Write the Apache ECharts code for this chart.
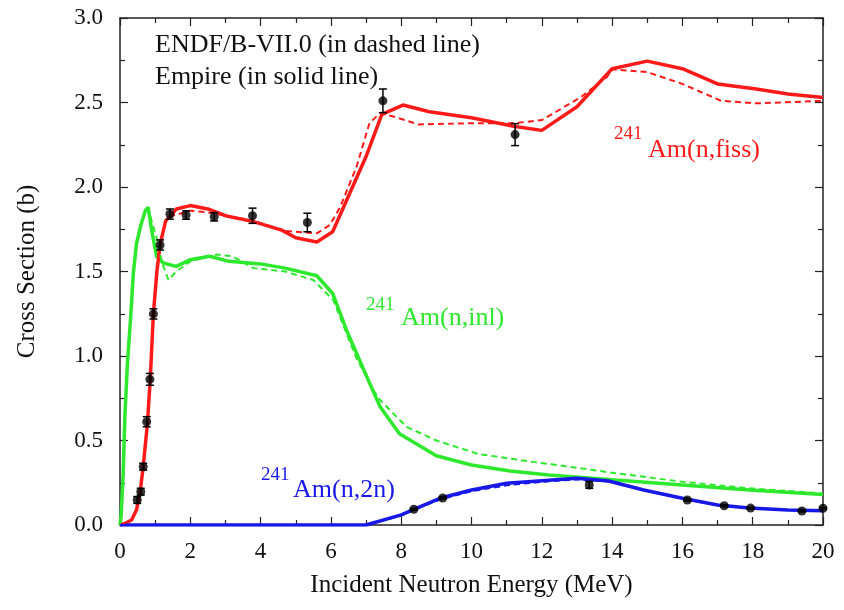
<!DOCTYPE html>
<html>
<head>
<meta charset="utf-8">
<script src="https://cdn.jsdelivr.net/npm/echarts@6/dist/echarts.min.js"></script>
<style>html,body{margin:0;padding:0;background:#fff}#chart{width:844px;height:610px}</style>
</head>
<body>
<div id="chart"></div>
<script>
// energies in MeV, cross sections in barn
const fissSolidE = [0, 0.15, 0.33, 0.47, 0.57, 0.66, 0.78, 0.86, 0.95, 1.05, 1.14, 1.3, 1.45, 1.6, 2.0, 2.5, 3.0, 3.8, 4.6, 5.0, 5.6, 6.05, 6.7, 7.0, 7.45, 8.05, 8.8, 10.0, 11.2, 12.0, 13.0, 14.0, 15.0, 16.0, 17.0, 18.1, 19.0, 20.0]
const fissSolid = [0, 0.01, 0.03, 0.09, 0.19, 0.345, 0.6, 0.86, 1.25, 1.5, 1.66, 1.8, 1.83, 1.87, 1.89, 1.87, 1.83, 1.795, 1.745, 1.70, 1.675, 1.735, 2.04, 2.18, 2.43, 2.485, 2.445, 2.41, 2.36, 2.335, 2.475, 2.70, 2.745, 2.70, 2.61, 2.58, 2.55, 2.53]
const fissDashE = [0, 0.15, 0.33, 0.47, 0.57, 0.66, 0.78, 0.86, 0.95, 1.05, 1.14, 1.3, 1.5, 2.0, 2.5, 3.0, 3.8, 4.7, 5.6, 5.97, 6.26, 6.73, 7.1, 7.4, 7.8, 8.5, 9.9, 11.2, 12.0, 13.1, 13.85, 14.0, 15.0, 16.0, 17.1, 18.1, 20.0]
const fissDash = [0, 0.01, 0.03, 0.09, 0.19, 0.345, 0.6, 0.86, 1.25, 1.5, 1.66, 1.8, 1.83, 1.86, 1.85, 1.83, 1.80, 1.74, 1.726, 1.775, 1.88, 2.12, 2.38, 2.436, 2.416, 2.37, 2.377, 2.377, 2.396, 2.53, 2.65, 2.696, 2.68, 2.61, 2.51, 2.495, 2.51]

const inlSolidE = [0, 0.03, 0.09, 0.14, 0.21, 0.3, 0.38, 0.47, 0.6, 0.72, 0.8, 0.9, 1.04, 1.23, 1.6, 2.0, 2.55, 3.1, 4.0, 4.7, 5.6, 6.05, 6.45, 7.1, 7.4, 7.95, 9.0, 10.0, 11.1, 12.2, 14.1, 16.0, 17.9, 20.0]
const inlSolid = [0, 0.05, 0.3, 0.65, 0.95, 1.22, 1.49, 1.667, 1.78, 1.86, 1.88, 1.745, 1.59, 1.55, 1.53, 1.57, 1.59, 1.56, 1.545, 1.52, 1.475, 1.37, 1.15, 0.84, 0.70, 0.54, 0.41, 0.355, 0.32, 0.296, 0.266, 0.237, 0.207, 0.18]
const inlDashE = [0, 0.03, 0.09, 0.14, 0.21, 0.3, 0.38, 0.47, 0.6, 0.72, 0.8, 0.9, 1.04, 1.2, 1.38, 1.6, 2.0, 2.75, 3.2, 3.8, 4.7, 5.5, 6.07, 6.26, 6.7, 7.2, 7.4, 7.87, 8.16, 9.0, 10.2, 11.7, 13.3, 14.1, 16.0, 17.9, 20.0]
const inlDash = [0, 0.05, 0.3, 0.65, 0.95, 1.22, 1.49, 1.667, 1.78, 1.86, 1.88, 1.80, 1.70, 1.55, 1.45, 1.50, 1.56, 1.60, 1.59, 1.52, 1.50, 1.45, 1.33, 1.23, 1.0, 0.80, 0.74, 0.64, 0.58, 0.50, 0.42, 0.375, 0.33, 0.306, 0.256, 0.217, 0.187]

const n2nE = [0, 7.0, 8.0, 8.36, 9.1, 10.0, 11.0, 12.0, 13.0, 13.9, 14.9, 16.0, 17.0, 17.9, 19.0, 20.0]
const n2nSolid = [0, 0, 0.06, 0.093, 0.158, 0.207, 0.247, 0.262, 0.276, 0.26, 0.207, 0.158, 0.118, 0.10, 0.089, 0.085]
const n2nDash = [0, 0, 0.055, 0.09, 0.15, 0.2, 0.235, 0.255, 0.27, 0.258, 0.205, 0.155, 0.118, 0.10, 0.088, 0.085]

// measured points
const fissExpE = [0.49, 0.59, 0.66, 0.76, 0.85, 0.95, 1.14, 1.42, 1.88, 2.68, 3.77, 5.33, 7.48, 11.24]
const fissExp = [0.148, 0.197, 0.345, 0.611, 0.862, 1.249, 1.657, 1.84, 1.834, 1.824, 1.83, 1.79, 2.51, 2.31]
const fissErr = [0.02, 0.02, 0.02, 0.03, 0.035, 0.03, 0.03, 0.03, 0.025, 0.025, 0.045, 0.055, 0.07, 0.065]
const n2nExpE = [8.36, 9.18, 13.35, 16.14, 17.19, 17.94, 19.4, 20.0]
const n2nExp = [0.093, 0.16, 0.237, 0.148, 0.114, 0.10, 0.083, 0.099]
const n2nErr = [0.005, 0.006, 0.02, 0.006, 0.005, 0.005, 0.005, 0.005]

const RED = '#ff1a1a', GREEN = '#2ee82e', BLUE = '#1818e8'
const FONT = '"Liberation Serif", "Times New Roman", serif'

const zip = (a, b) => a.map((x, i) => [x, b[i]])

function curve(E, S, color, dashed) {
    return {
        type: 'line', data: zip(E, S), showSymbol: false, silent: true,
        lineStyle: dashed ? {color, width: 2, type: [6, 4]} : {color, width: 3.5},
        z: dashed ? 3 : 2
    }
}

function errorBars(E, S, err) {
    return {
        type: 'custom', z: 6, silent: true,
        data: E.map((x, i) => [x, S[i], err[i]]),
        renderItem: (params, api) => {
            let x = api.value(0), y = api.value(1), e = api.value(2)
            let top = api.coord([x, y + e]), bot = api.coord([x, y - e])
            let st = {stroke: '#000', lineWidth: 1.5}
            return {type: 'group', children: [
                {type: 'line', shape: {x1: top[0], y1: top[1], x2: bot[0], y2: bot[1]}, style: st},
                {type: 'line', shape: {x1: top[0] - 4, y1: top[1], x2: top[0] + 4, y2: top[1]}, style: st},
                {type: 'line', shape: {x1: bot[0] - 4, y1: bot[1], x2: bot[0] + 4, y2: bot[1]}, style: st}
            ]}
        }
    }
}

function dots(E, S) {
    return {type: 'scatter', data: zip(E, S), symbolSize: 9, itemStyle: {color: '#000'}, z: 7, silent: true}
}

const axisLine = {show: true, onZero: false, lineStyle: {color: '#222', width: 1.5}}
const tick = {show: true, inside: true, length: 8, lineStyle: {color: '#222', width: 1.2}}
const minor = {show: true, splitNumber: 2, length: 5, lineStyle: {color: '#222', width: 1.2}}

function label(text, x, y, size, color) {
    return {type: 'text', x, y, style: {text, fill: color, font: size + 'px ' + FONT, verticalAlign: 'middle'}}
}

const chart = echarts.init(document.getElementById('chart'))
chart.setOption({
    animation: false,
    grid: {left: 120, right: 21, top: 18, bottom: 85},
    xAxis: [{
        type: 'value', min: 0, max: 20, interval: 2,
        axisLine, axisTick: tick, minorTick: minor, splitLine: {show: false},
        axisLabel: {color: '#111', fontSize: 23, fontFamily: FONT, margin: 15},
        name: 'Incident Neutron Energy (MeV)', nameLocation: 'middle', nameGap: 48,
        nameTextStyle: {color: '#111', fontSize: 25, fontFamily: FONT}
    }, {
        type: 'value', position: 'top', min: 0, max: 20, interval: 2,
        axisLine, axisTick: tick, minorTick: minor, splitLine: {show: false}, axisLabel: {show: false}
    }],
    yAxis: [{
        type: 'value', min: 0, max: 3, interval: 0.5,
        axisLine, axisTick: tick, minorTick: minor, splitLine: {show: false},
        axisLabel: {color: '#111', fontSize: 23, fontFamily: FONT, margin: 17, formatter: v => v.toFixed(1)},
        name: 'Cross Section (b)', nameLocation: 'middle', nameGap: 80,
        nameTextStyle: {color: '#111', fontSize: 25, fontFamily: FONT}
    }, {
        type: 'value', position: 'right', min: 0, max: 3, interval: 0.5,
        axisLine, axisTick: tick, minorTick: minor, splitLine: {show: false}, axisLabel: {show: false}
    }],
    series: [
        curve(inlDashE, inlDash, GREEN, true),
        curve(inlSolidE, inlSolid, GREEN, false),
        curve(fissDashE, fissDash, RED, true),
        curve(fissSolidE, fissSolid, RED, false),
        curve(n2nE, n2nDash, BLUE, true),
        curve(n2nE, n2nSolid, BLUE, false),
        errorBars(fissExpE, fissExp, fissErr),
        dots(fissExpE, fissExp),
        errorBars(n2nExpE, n2nExp, n2nErr),
        dots(n2nExpE, n2nExp)
    ],
    graphic: [
        label('ENDF/B-VII.0 (in dashed line)', 155, 45, 26, '#111'),
        label('Empire (in solid line)', 155, 77, 26, '#111'),
        label('241', 614, 134, 19, RED),
        label('Am(n,fiss)', 648, 150, 26, RED),
        label('241', 366, 305, 19, GREEN),
        label('Am(n,inl)', 401, 318, 26, GREEN),
        label('241', 261, 475, 19, BLUE),
        label('Am(n,2n)', 293, 490, 26, BLUE)
    ]
})
</script>
</body>
</html>
